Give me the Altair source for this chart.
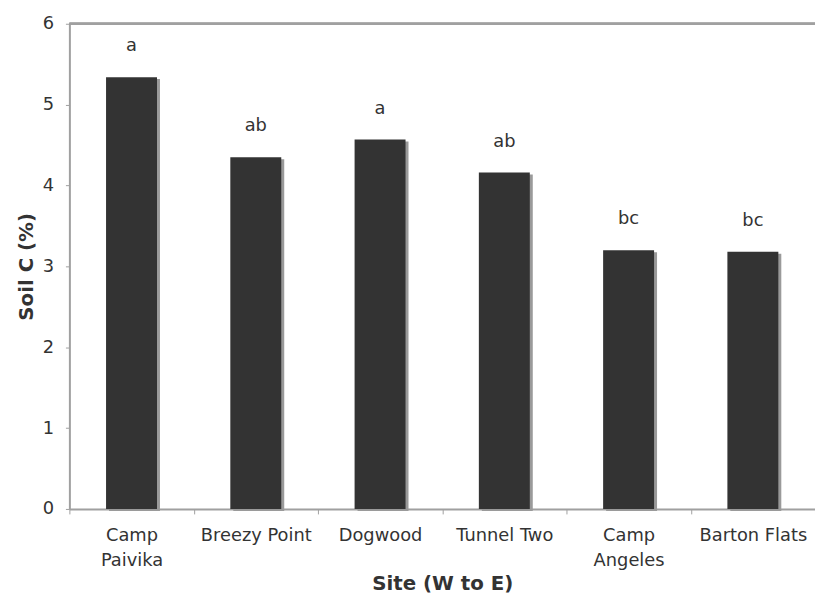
import altair as alt
import pandas as pd

sites = ["Camp Paivika", "Breezy Point", "Dogwood", "Tunnel Two", "Camp Angeles", "Barton Flats"]
soil_c = [5.34, 4.35, 4.57, 4.16, 3.20, 3.18]
letters = ["a", "ab", "a", "ab", "bc", "bc"]
y_ticks = [0, 1, 2, 3, 4, 5, 6]

df = pd.DataFrame({"site": sites, "soil_c": soil_c, "letter": letters})

label_expr = (
    "datum.value == 'Camp Paivika' ? ['Camp', 'Paivika'] : "
    "datum.value == 'Camp Angeles' ? ['Camp', 'Angeles'] : datum.value"
)

FONT = "DejaVu Sans"
AX = "#a0a0a0"
TXT = "#333333"

x_enc = alt.X(
    "site:N",
    sort=sites,
    scale=alt.Scale(paddingInner=0, paddingOuter=0),
    axis=alt.Axis(
        title="Site (W to E)",
        labelAngle=0,
        labelExpr=label_expr,
        labelFont=FONT,
        labelFontSize=18,
        labelColor=TXT,
        labelPadding=13,
        labelLineHeight=25,
        labelBaseline="top",
        titleFont=FONT,
        titleFontSize=20,
        titleFontWeight="bold",
        titleColor=TXT,
        titlePadding=4,
        tickBand="extent",
        tickSize=5,
        tickColor=AX,
        domainColor=AX,
        domainWidth=2,
        labelFlush=False,
        labelOverlap=False,
    ),
)
y_enc = alt.Y(
    "soil_c:Q",
    scale=alt.Scale(domain=[0, 6], nice=False),
    axis=alt.Axis(
        title="Soil C (%)",
        values=y_ticks,
        format="d",
        grid=False,
        labelFont=FONT,
        labelFontSize=18,
        labelColor=TXT,
        labelPadding=12,
        titleFont=FONT,
        titleFontSize=20,
        titleFontWeight="bold",
        titleColor=TXT,
        titlePadding=6,
        tickSize=4,
        tickColor=AX,
        domainColor=AX,
        domainWidth=2,
    ),
)

base = alt.Chart(df)

shadow = base.mark_bar(color="#9a9a9a", xOffset=3, yOffset=2, width=alt.RelativeBandSize(0.41)).encode(
    x=x_enc, y=y_enc
)
bars = base.mark_bar(color="#333333", width=alt.RelativeBandSize(0.41)).encode(x=x_enc, y=y_enc)
labels = base.mark_text(font=FONT, fontSize=18, color=TXT, baseline="bottom", dy=-22).encode(
    x=x_enc, y=y_enc, text="letter:N"
)
top_line = base.mark_rule(color=AX, strokeWidth=2).encode(
    y=alt.datum(6), x=alt.value(0), x2=alt.value(753)
)

chart = (
    alt.layer(shadow, bars, labels, top_line)
    .properties(
        width=753,
        height=490,
        autosize=alt.AutoSizeParams(type="none"),
        padding={"left": 62, "top": 13, "right": 0, "bottom": 85},
    )
    .configure_view(stroke=None)
    .configure(background="white")
)

chart.save("out.html", embed_options={"renderer": "svg", "actions": False})
